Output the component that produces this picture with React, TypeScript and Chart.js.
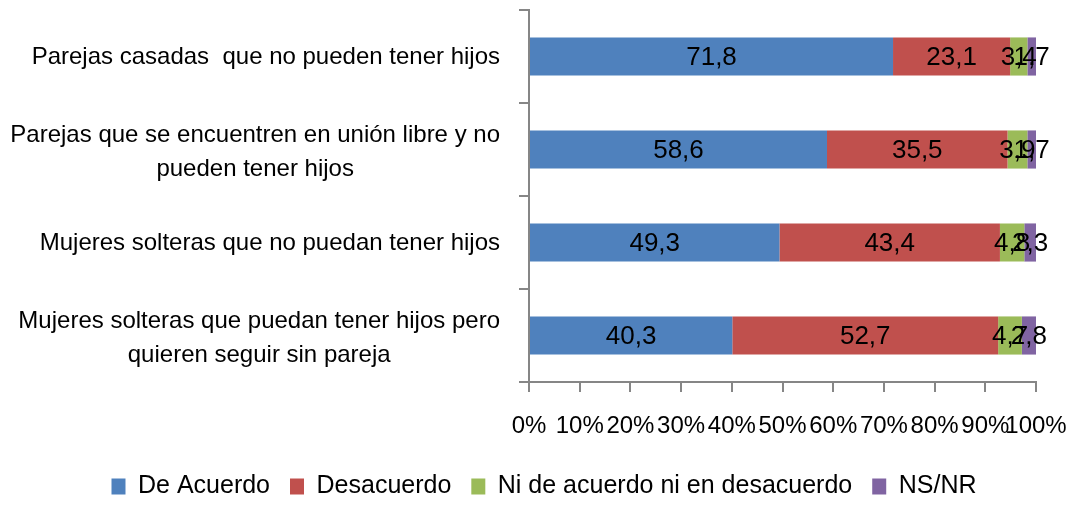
import React, { useEffect, useRef } from "react";
import { Chart, registerables } from "chart.js";

Chart.register(...registerables);

const categoryLines: string[][] = [
  ["Parejas casadas  que no pueden tener hijos"],
  ["Parejas que se encuentren en unión libre y no", "pueden tener hijos"],
  ["Mujeres solteras que no puedan tener hijos"],
  ["Mujeres solteras que puedan tener hijos pero", "quieren seguir sin pareja"],
];

const seriesNames = ["De Acuerdo", "Desacuerdo", "Ni de acuerdo ni en desacuerdo", "NS/NR"];
const seriesColors = ["#4F81BD", "#C0504D", "#9BBB59", "#8064A2"];

const deAcuerdo = [71.8, 58.6, 49.3, 40.3];
const desacuerdo = [23.1, 35.5, 43.4, 52.7];
const niNi = [3.4, 3.9, 4.8, 4.7];
const nsnr = [1.7, 1.7, 2.3, 2.8];

const xTicks = [0, 10, 20, 30, 40, 50, 60, 70, 80, 90, 100];

const FONT = "'Liberation Sans', Arial, sans-serif";

export default function App() {
  const ref = useRef<HTMLCanvasElement | null>(null);

  useEffect(() => {
    if (!ref.current) return;
    const raw = [deAcuerdo, desacuerdo, niNi, nsnr];
    const totals = categoryLines.map((_, i) => raw.reduce((s, arr) => s + arr[i], 0));
    const gray = "#868686";

    const yLabelPlugin = {
      id: "yLabels",
      afterDraw(chart: any) {
        const ctx = chart.ctx;
        const y = chart.scales.y;
        const left = chart.chartArea.left;
        ctx.save();
        ctx.font = `24px ${FONT}`;
        ctx.fillStyle = "#000";
        ctx.textAlign = "center";
        ctx.textBaseline = "middle";
        const lineH = 34;
        categoryLines.forEach((lines, i) => {
          const cy = y.getPixelForValue(i);
          const w = Math.max(...lines.map((l) => ctx.measureText(l).width));
          const cx = left - 29 - w / 2;
          const off = lines.length > 1 ? 3 : 1;
          lines.forEach((l, j) => {
            const ly = cy + (j - (lines.length - 1) / 2) * lineH + off;
            ctx.fillText(l, cx, ly);
          });
        });
        ctx.restore();
      },
    };

    const dataLabelPlugin = {
      id: "dataLabels",
      afterDatasetsDraw(chart: any) {
        const ctx = chart.ctx;
        ctx.save();
        ctx.font = `26px ${FONT}`;
        ctx.fillStyle = "#000";
        ctx.textAlign = "center";
        ctx.textBaseline = "middle";
        chart.data.datasets.forEach((ds: any, di: number) => {
          const meta = chart.getDatasetMeta(di);
          meta.data.forEach((el: any, i: number) => {
            const v = raw[di][i];
            const cx = (el.x + el.base) / 2;
            ctx.fillText(v.toFixed(1).replace(".", ","), cx, el.y + 1);
          });
        });
        ctx.restore();
      },
    };

    const chart = new Chart(ref.current, {
      type: "bar",
      data: {
        labels: categoryLines.map((l) => l.join(" ")),
        datasets: raw.map((arr, di) => ({
          label: seriesNames[di],
          data: arr.map((v, i) => (v / totals[i]) * 100),
          backgroundColor: seriesColors[di],
          borderWidth: 0,
          categoryPercentage: 1,
          barPercentage: 0.41,
        })),
      },
      options: {
        indexAxis: "y",
        animation: false,
        responsive: true,
        maintainAspectRatio: false,
        layout: { padding: { top: 2, right: 42, left: 44, bottom: 10 } },
        plugins: {
          legend: {
            position: "bottom",
            labels: {
              font: { family: FONT, size: 25 },
              color: "#000",
              boxWidth: 14,
              boxHeight: 16,
              padding: 20,
            },
          },
          tooltip: { enabled: false },
        },
        scales: {
          x: {
            stacked: true,
            min: 0,
            max: 100,
            afterBuildTicks(scale: any) {
              scale.ticks = xTicks.map((v) => ({ value: v }));
            },
            afterFit(scale: any) {
              scale.height = 72;
              scale.paddingLeft = 0;
              scale.paddingRight = 0;
            },
            ticks: {
              callback: (v: any) => `${v}%`,
              font: { family: FONT, size: 24 },
              color: "#000",
              padding: 20,
              maxRotation: 0,
              autoSkip: false,
            },
            grid: {
              drawOnChartArea: false,
              tickLength: 10,
              color: gray,
              lineWidth: 2,
            },
            border: { color: gray, width: 2 },
          },
          y: {
            stacked: true,
            afterFit(scale: any) {
              scale.width = 477;
            },
            ticks: { display: false },
            grid: {
              offset: true,
              drawOnChartArea: false,
              tickLength: 10,
              color: gray,
              lineWidth: 2,
            },
            border: { color: gray, width: 2 },
          },
        },
      },
      plugins: [yLabelPlugin, dataLabelPlugin],
    } as any);
    return () => chart.destroy();
  }, []);

  return (
    <div style={{ width: 1070, height: 511, position: "relative" }}>
      <canvas ref={ref} />
    </div>
  );
}
